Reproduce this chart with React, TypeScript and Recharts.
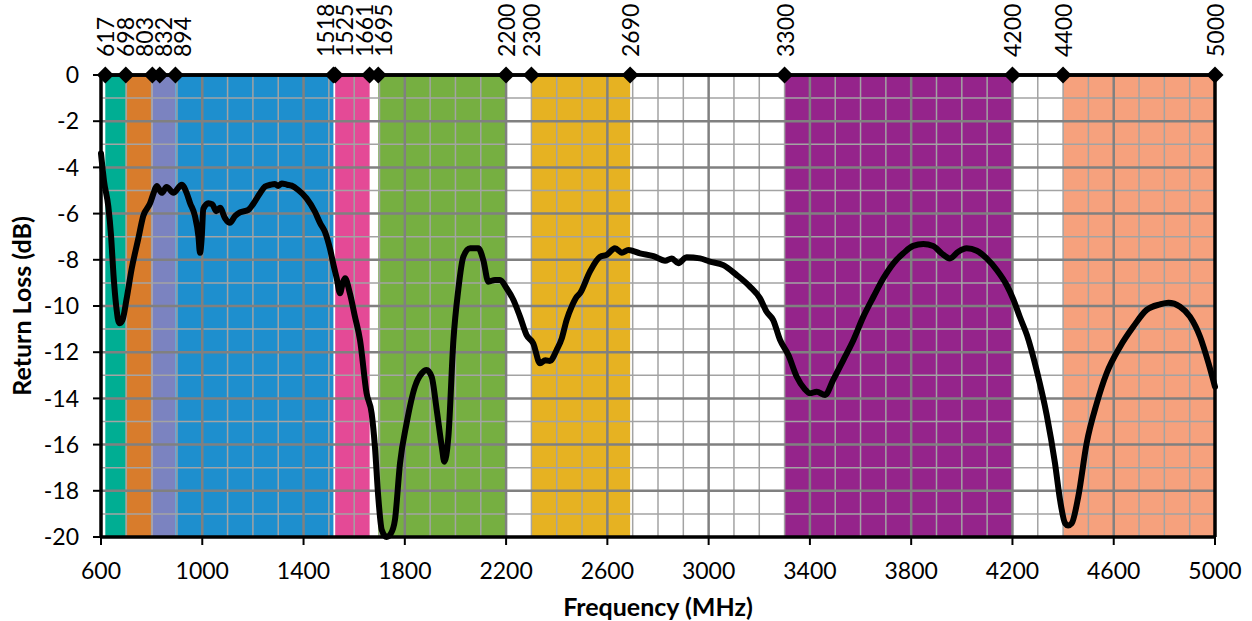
import React from "react";
import { Line, LineChart, ReferenceArea, ReferenceLine, XAxis, YAxis } from "recharts";

const FREQ_MHZ = [
  600, 612, 629, 640, 649, 660, 672, 685, 701, 721, 747, 767, 794, 808, 820, 840, 859, 886, 919, 938,
  952, 971, 985, 991, 998, 1004, 1024, 1040, 1055, 1070, 1090, 1109, 1130, 1149, 1182, 1200, 1228, 1248,
  1270, 1287, 1300, 1314, 1335, 1353, 1379, 1412, 1445, 1465, 1485, 1504, 1520, 1531, 1544, 1555, 1564,
  1583, 1603, 1623, 1649, 1669, 1682, 1695, 1709, 1728, 1745, 1761, 1781, 1807, 1840, 1867, 1886, 1906,
  1926, 1946, 1956, 1972, 1992, 2011, 2031, 2058, 2090, 2110, 2130, 2156, 2176, 2202, 2229, 2255, 2281,
  2307, 2334, 2355, 2373, 2400, 2420, 2439, 2460, 2479, 2492, 2531, 2571, 2597, 2630, 2657, 2683, 2729,
  2782, 2828, 2854, 2880, 2913, 2966, 3005, 3058, 3111, 3163, 3203, 3229, 3255, 3282, 3315, 3348, 3380,
  3400, 3427, 3460, 3492, 3532, 3572, 3611, 3651, 3690, 3730, 3769, 3808, 3848, 3887, 3920, 3953, 3986,
  4019, 4059, 4098, 4138, 4177, 4203, 4230, 4257, 4296, 4335, 4368, 4388, 4408, 4420, 4434, 4460, 4493,
  4533, 4572, 4625, 4677, 4730, 4783, 4816, 4862, 4901, 4941, 4975, 5000
];
const RETURN_LOSS_DB = [
  -3.4, -4.6, -5.7, -7.0, -8.6, -10.0, -10.75, -10.6, -9.7, -8.4, -7.1, -6.1, -5.55, -5.1, -4.8, -5.1,
  -4.85, -5.1, -4.75, -5.1, -5.55, -6.1, -7.0, -7.7, -7.0, -5.8, -5.55, -5.6, -5.9, -5.75, -6.2, -6.4,
  -6.1, -5.95, -5.84, -5.6, -5.12, -4.83, -4.75, -4.72, -4.8, -4.7, -4.75, -4.79, -4.98, -5.34, -5.92,
  -6.4, -6.8, -7.5, -8.3, -8.8, -9.45, -9.0, -8.8, -9.45, -10.46, -11.47, -13.78, -14.65, -16.1, -18.25,
  -19.7, -20, -19.85, -19.26, -16.81, -15.08, -13.49, -12.91, -12.77, -13.06, -14.5, -16.09, -16.74,
  -15.66, -11.47, -9.31, -7.87, -7.5, -7.5, -8.01, -8.95, -8.87, -8.87, -9.23, -9.74, -10.46, -11.26,
  -11.61, -12.48, -12.35, -12.38, -11.9, -11.4, -10.61, -10.0, -9.6, -9.45, -8.51, -7.87, -7.79, -7.5,
  -7.69, -7.58, -7.72, -7.84, -8.04, -7.94, -8.15, -7.89, -7.94, -8.08, -8.23, -8.66, -9.16, -9.67,
  -10.25, -10.61, -11.47, -12.12, -13.06, -13.6, -13.78, -13.71, -13.85, -13.2, -12.34, -11.47, -10.46,
  -9.6, -8.8, -8.15, -7.72, -7.4, -7.32, -7.4, -7.72, -7.94, -7.65, -7.5, -7.61, -7.94, -8.44, -9.09,
  -9.7, -10.5, -11.25, -12.8, -14.7, -16.81, -18.4, -19.41, -19.5, -19.41, -18.25, -15.94, -14.21,
  -12.91, -11.76, -10.9, -10.17, -9.93, -9.86, -10.03, -10.46, -11.33, -12.5, -13.5
];

// band edges marked along the top
const BAND_EDGES_MHZ = [617, 698, 803, 832, 894, 1518, 1525, 1661, 1695, 2200, 2300, 2690, 3300, 4200, 4400, 5000];
const BAND_START_MHZ = [617, 698, 803, 894, 1525, 1695, 2300, 3300, 4400];
const BAND_END_MHZ = [698, 803, 894, 1518, 1661, 2200, 2690, 4200, 5000];
const BAND_COLORS = ["#00ae93", "#d87c2c", "#7b83c0", "#1e8fce", "#e44a96", "#76af41", "#e6b222", "#95248b", "#f6a17d"];

const X_TICKS = [600, 1000, 1400, 1800, 2200, 2600, 3000, 3400, 3800, 4200, 4600, 5000];
const Y_TICKS = [0, -2, -4, -6, -8, -10, -12, -14, -16, -18, -20];

const FONT = "Lato, 'Open Sans', sans-serif";
const PLOT_W = 1114;

const curve = FREQ_MHZ.map((f, i) => ({ f, rl: RETURN_LOSS_DB[i] }));
const edges = BAND_EDGES_MHZ.map((f) => ({ f, rl: 0 }));

const minorX: number[] = [];
for (let f = 700; f < 5000; f += 100) if (!X_TICKS.includes(f)) minorX.push(f);
const minorY: number[] = [];
for (let v = -1; v > -20; v -= 1) if (!Y_TICKS.includes(v)) minorY.push(v);
const majorX = X_TICKS.slice(1, -1);
const majorY = Y_TICKS.slice(1, -1);

// spread crowded edge labels apart, like the spreadsheet does
const labelShift = (() => {
  const k = PLOT_W / 4400;
  const gap = 19;
  const base = BAND_EDGES_MHZ.map((f) => (f - 600) * k);
  const pos = base.slice();
  for (let it = 0; it < 300; it++) {
    for (let i = 1; i < pos.length; i++) {
      const d = pos[i] - pos[i - 1];
      if (d < gap) {
        const m = (gap - d) / 2;
        pos[i - 1] -= m;
        pos[i] += m;
      }
    }
  }
  return pos.map((p, i) => p - base[i]);
})();

const Diamond = (props: any) => {
  const { cx, cy, index } = props;
  if (cx == null || cy == null) return null;
  const r = 8.5;
  return (
    <polygon
      key={`d-${index}`}
      points={`${cx},${cy - r} ${cx + r},${cy} ${cx},${cy + r} ${cx - r},${cy}`}
      fill="#000"
    />
  );
};

const EdgeLabel = (props: any) => {
  const { x, y, index } = props;
  const tx = x + (labelShift[index] ?? 0);
  const ty = y - 18;
  return (
    <text
      key={`l-${index}`}
      x={tx}
      y={ty}
      transform={`rotate(-90 ${tx} ${ty})`}
      textAnchor="start"
      dominantBaseline="central"
      fontFamily={FONT}
      fontSize={23}
      fill="#000"
    >
      {BAND_EDGES_MHZ[index]}
    </text>
  );
};

export default function App() {
  return (
    <div style={{ position: "absolute", left: 0, top: 0, background: "#fff" }}>
      <LineChart width={1252} height={621} data={curve} margin={{ top: 75, right: 37, bottom: 0, left: 0 }}>
        {BAND_START_MHZ.map((s, i) => (
          <ReferenceArea
            key={`band-${s}`}
            x1={s}
            x2={BAND_END_MHZ[i]}
            y1={-20}
            y2={0}
            fill={BAND_COLORS[i]}
            fillOpacity={1}
            stroke="none"
            zIndex={10}
          />
        ))}
        {minorX.map((f) => (
          <ReferenceLine key={`mx-${f}`} x={f} stroke="#a3a3a3" strokeWidth={1.5} zIndex={20} />
        ))}
        {minorY.map((v) => (
          <ReferenceLine key={`my-${v}`} y={v} stroke="#a3a3a3" strokeWidth={1.5} zIndex={20} />
        ))}
        {majorX.map((f) => (
          <ReferenceLine key={`Mx-${f}`} x={f} stroke="#808080" strokeWidth={2.5} zIndex={30} />
        ))}
        {majorY.map((v) => (
          <ReferenceLine key={`My-${v}`} y={v} stroke="#808080" strokeWidth={2.5} zIndex={30} />
        ))}
        <ReferenceLine x={5000} stroke="#000" strokeWidth={3.5} zIndex={40} />
        <ReferenceLine y={0} stroke="#000" strokeWidth={3.5} zIndex={40} />
        <XAxis
          type="number"
          dataKey="f"
          domain={[600, 5000]}
          ticks={X_TICKS}
          interval={0}
          height={84}
          tickSize={8}
          tickMargin={18}
          tick={{ fontSize: 23, fill: "#000", fontFamily: FONT }}
          tickLine={{ stroke: "#000", strokeWidth: 2 }}
          axisLine={{ stroke: "#000", strokeWidth: 3.5 }}
          label={{
            value: "Frequency (MHz)",
            position: "insideBottom",
            offset: 5,
            style: { fontSize: 25, fontWeight: 700, fill: "#000", fontFamily: FONT }
          }}
        />
        <YAxis
          type="number"
          domain={[-20, 0]}
          ticks={Y_TICKS}
          interval={0}
          width={101}
          tickSize={8}
          tickMargin={14}
          tick={{ fontSize: 23, fill: "#000", fontFamily: FONT }}
          tickLine={{ stroke: "#000", strokeWidth: 2 }}
          axisLine={{ stroke: "#000", strokeWidth: 3.5 }}
          label={{
            value: "Return Loss (dB)",
            angle: -90,
            position: "insideLeft",
            offset: 22,
            style: { fontSize: 25, fontWeight: 700, fill: "#000", fontFamily: FONT, textAnchor: "middle" }
          }}
        />
        <Line
          data={edges}
          dataKey="rl"
          type="linear"
          stroke="#000"
          strokeWidth={3.5}
          dot={Diamond}
          activeDot={false}
          label={EdgeLabel}
          isAnimationActive={false}
          zIndex={450}
        />
        <Line
          dataKey="rl"
          type="monotone"
          stroke="#000"
          strokeWidth={6}
          strokeLinejoin="round"
          strokeLinecap="round"
          dot={false}
          activeDot={false}
          isAnimationActive={false}
          zIndex={460}
        />
      </LineChart>
    </div>
  );
}
